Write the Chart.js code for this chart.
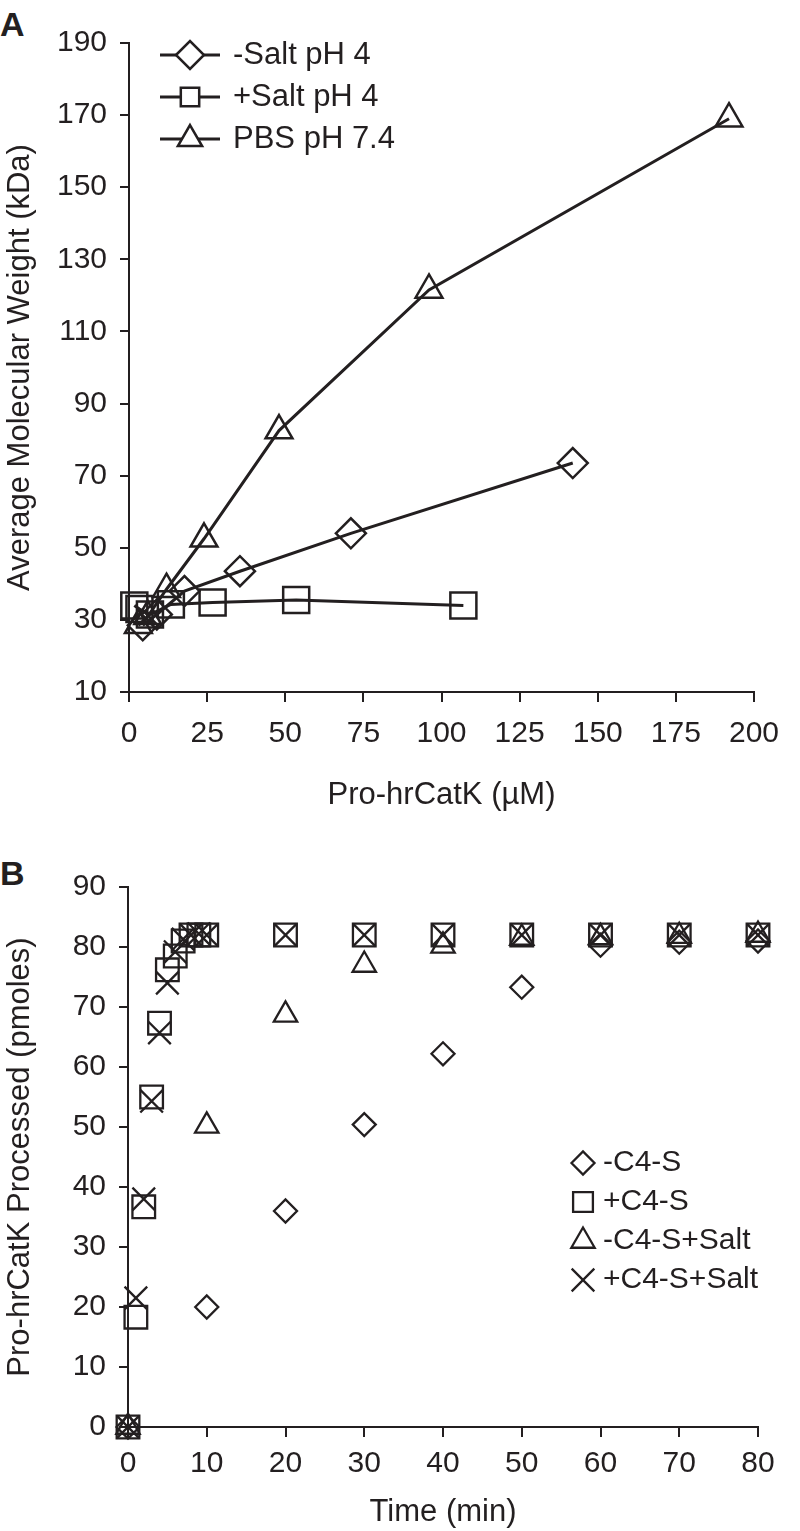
<!DOCTYPE html>
<html>
<head>
<meta charset="utf-8">
<script src="https://cdn.jsdelivr.net/npm/chart.js@4.4.1/dist/chart.umd.min.js"></script>
<style>
  body { margin: 0; background: #fff; width: 800px; height: 1531px; position: relative; overflow: hidden;
         font-family: "Liberation Sans", Arial, sans-serif; }
  .panel { position: absolute; left: 0; width: 800px; }
  #wrapA { top: 0; height: 830px; }
  #wrapB { top: 830px; height: 701px; }
  .tag { position: absolute; left: 0; font-weight: bold; font-size: 34px; line-height: 1; color: #231f20; }
</style>
</head>
<body>
<div class="tag" style="top:7px">A</div>
<div class="tag" style="top:856px">B</div>
<div id="wrapA" class="panel"><canvas id="chartA"></canvas></div>
<div id="wrapB" class="panel"><canvas id="chartB"></canvas></div>

<script>
// Panel A: average molecular weight (kDa) vs Pro-hrCatK (uM)
const concNoSalt = [4.4, 8.9, 17.75, 35.5, 71, 142];
const mwNoSalt   = [28.5, 31.5, 38, 43.5, 54, 73.5];
const concSalt   = [1.7, 3.35, 6.7, 13.4, 26.75, 53.5, 107];
const mwSalt     = [34, 33, 31.5, 34.3, 34.8, 35.5, 34];
const concPBS    = [3, 6, 12, 24, 48, 96, 192];
const mwPBS      = [28.5, 31, 38.5, 52.5, 82.5, 121.5, 169];
const labelsA    = ['-Salt pH 4', '+Salt pH 4', 'PBS pH 7.4'];

// Panel B: Pro-hrCatK processed (pmoles) vs time (min)
const timeSparse  = [0, 10, 20, 30, 40, 50, 60, 70, 80];
const timeDense   = [0, 1, 2, 3, 4, 5, 6, 7, 8, 9, 10, 20, 30, 40, 50, 60, 70, 80];
const noC4S       = [0, 20, 36, 50.4, 62.2, 73.3, 80.3, 80.8, 81];
const plusC4S     = [0, 18.3, 36.7, 55, 67.3, 76.2, 78.5, 81, 82, 82, 82, 82, 82, 82, 82, 82, 82, 82];
const noC4SSalt   = [0, 50.2, 68.7, 77, 80.2, 81.5, 81.6, 81.8, 82];
const plusC4SSalt = [0, 21.5, 38, 54.3, 65.7, 74, 79.2, 81.3, 82, 82.2, 82, 82, 82, 82, 82, 82, 82, 82];
const labelsB     = ['-C4-S', '+C4-S', '-C4-S+Salt', '+C4-S+Salt'];

const ink = '#231f20';
Chart.defaults.font.family = '"Liberation Sans", Arial, sans-serif';
Chart.defaults.color = ink;

const pairs = (xs, ys) => xs.map((x, i) => ({ x: x, y: ys[i] }));

// small legend drawn inside the plot (line + marker + text)
const keyPlugin = {
  id: 'key',
  afterDatasetsDraw(chart, args, opts) {
    const ctx = chart.ctx;
    ctx.save();
    opts.items.forEach((it, i) => {
      const y = opts.y + i * opts.gap;
      ctx.strokeStyle = ink;
      ctx.fillStyle = '#fff';
      ctx.lineWidth = opts.lineWidth;
      if (opts.line) {
        ctx.beginPath();
        ctx.moveTo(opts.x - opts.half, y);
        ctx.lineTo(opts.x + opts.half, y);
        ctx.stroke();
      }
      ctx.lineWidth = opts.markerWidth;
      Chart.helpers.drawPoint(ctx, { pointStyle: it.style, radius: it.radius, borderWidth: opts.markerWidth, rotation: 0 }, opts.x, y);
      ctx.fillStyle = ink;
      ctx.font = opts.fontSize + 'px "Liberation Sans", Arial, sans-serif';
      ctx.textBaseline = 'middle';
      ctx.textAlign = 'left';
      ctx.fillText(it.label, opts.textX, y);
    });
    ctx.restore();
  }
};

function axis(min, max, step, title, tickPad, tickLen, titlePad, fitKey, fitVal) {
  return {
    type: 'linear', min: min, max: max,
    ticks: { stepSize: step, autoSkip: false, maxRotation: 0, padding: tickPad, color: ink, font: { size: 30 } },
    grid: { drawOnChartArea: false, drawTicks: true, tickLength: tickLen, color: ink, lineWidth: 2 },
    border: { display: true, color: ink, width: 2 },
    title: { display: true, text: title, color: ink, font: { size: 31 }, padding: titlePad },
    afterFit: s => { s[fitKey] = fitVal; }
  };
}

function series(data, style, radius, bw, showLine) {
  return {
    data: data, showLine: showLine, borderColor: ink, backgroundColor: 'rgba(0,0,0,0)',
    borderWidth: 3, tension: 0, pointStyle: style, pointRadius: radius, pointHoverRadius: radius,
    pointBorderColor: ink, pointBackgroundColor: 'rgba(0,0,0,0)', pointBorderWidth: bw, clip: false
  };
}

new Chart(document.getElementById('chartA'), {
  type: 'scatter',
  data: {
    datasets: [
      series(pairs(concNoSalt, mwNoSalt), 'rectRot', 15, 2.5, true),
      series(pairs(concSalt, mwSalt), 'rect', 18.4, 2.5, true),
      series(pairs(concPBS, mwPBS), 'triangle', 15.5, 2.5, true)
    ]
  },
  options: {
    responsive: true, maintainAspectRatio: false, animation: false,
    layout: { padding: { top: 43, right: 46, left: 0, bottom: 0 } },
    plugins: {
      legend: { display: false }, tooltip: { enabled: false },
      key: {
        line: true, x: 190, half: 30, textX: 233, y: 55, gap: 42, lineWidth: 3, markerWidth: 2.5, fontSize: 31,
        items: [
          { label: labelsA[0], style: 'rectRot', radius: 14 },
          { label: labelsA[1], style: 'rect', radius: 13 },
          { label: labelsA[2], style: 'triangle', radius: 14 }
        ]
      }
    },
    scales: {
      x: axis(0, 200, 25, 'Pro-hrCatK (µM)', 14, 10, { top: 0, bottom: 16 }, 'height', 138),
      y: axis(10, 190, 20, 'Average Molecular Weight (kDa)', 13, 9, { top: 2, bottom: 0 }, 'width', 129)
    }
  },
  plugins: [keyPlugin]
});

new Chart(document.getElementById('chartB'), {
  type: 'scatter',
  data: {
    datasets: [
      series(pairs(timeSparse, noC4S), 'rectRot', 11.5, 2.3, false),
      series(pairs(timeDense, plusC4S), 'rect', 16, 2.3, false),
      series(pairs(timeSparse, noC4SSalt), 'triangle', 13.5, 2.3, false),
      series(pairs(timeDense, plusC4SSalt), 'crossRot', 16, 2.3, false)
    ]
  },
  options: {
    responsive: true, maintainAspectRatio: false, animation: false,
    layout: { padding: { top: 57, right: 42, left: 0, bottom: 0 } },
    plugins: {
      legend: { display: false }, tooltip: { enabled: false },
      key: {
        line: false, x: 583, half: 0, textX: 603, y: 333, gap: 39, lineWidth: 2, markerWidth: 2.3, fontSize: 30,
        items: [
          { label: labelsB[0], style: 'rectRot', radius: 11.5 },
          { label: labelsB[1], style: 'rect', radius: 14 },
          { label: labelsB[2], style: 'triangle', radius: 13.5 },
          { label: labelsB[3], style: 'crossRot', radius: 16 }
        ]
      }
    },
    scales: {
      x: axis(0, 80, 10, 'Time (min)', 9, 10, { top: 0, bottom: 0 }, 'height', 104),
      y: axis(0, 90, 10, 'Pro-hrCatK Processed (pmoles)', 13, 9, { top: 2, bottom: 0 }, 'width', 128)
    }
  },
  plugins: [keyPlugin]
});
</script>
</body>
</html>
